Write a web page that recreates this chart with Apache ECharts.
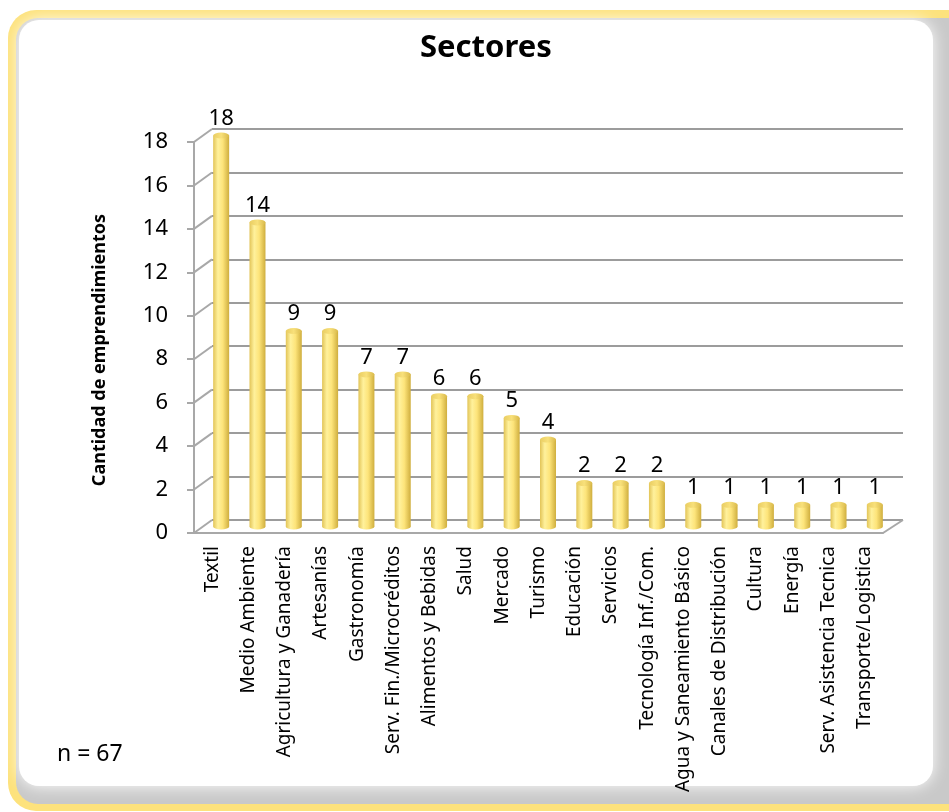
<!DOCTYPE html>
<html>
<head>
<meta charset="utf-8">
<script src="https://cdn.jsdelivr.net/npm/echarts@6/dist/echarts.min.js"></script>
<style>
  html, body { margin: 0; padding: 0; background: #fff; }
  #chart { width: 949px; height: 812px; }
</style>
</head>
<body>
<div id="chart"></div>
<script>
// datos del grafico
var categories = ['Textil', 'Medio Ambiente', 'Agricultura y Ganadería', 'Artesanías', 'Gastronomía',
    'Serv. Fin./Microcréditos', 'Alimentos y Bebidas', 'Salud', 'Mercado', 'Turismo', 'Educación',
    'Servicios', 'Tecnología Inf./Com.', 'Agua y Saneamiento Básico', 'Canales de Distribución',
    'Cultura', 'Energía', 'Serv. Asistencia Tecnica', 'Transporte/Logistica'];
var values = [18, 14, 9, 9, 7, 7, 6, 6, 5, 4, 2, 2, 2, 1, 1, 1, 1, 1, 1];
var yMin = 0, yMax = 18, yStep = 2;
var totalN = 67;

// grids: fondo (pared), frente (ejes), medio (barras)
var back = {left: 212, right: 46, top: 129, bottom: 292};
var front = {left: 194, right: 66, top: 142, bottom: 279};
var mid = {left: 203, right: 56, top: 135.5, bottom: 285.5};

var font = "'Noto Sans'";
var gridColor = '#9c9c9c';
var axisColor = '#a8a8a8';

var chart = echarts.init(document.getElementById('chart'));

var barColor = new echarts.graphic.LinearGradient(0, 0, 1, 0, [
    {offset: 0, color: '#e2c457'},
    {offset: 0.3, color: '#fff19c'},
    {offset: 0.6, color: '#fde47a'},
    {offset: 1, color: '#cfae3e'}
]);
var capColor = new echarts.graphic.LinearGradient(0, 0, 1, 0, [
    {offset: 0, color: '#e9cd62'},
    {offset: 0.5, color: '#f8e07a'},
    {offset: 1, color: '#d9b94a'}
]);

var option = {
    animation: false,
    textStyle: {fontFamily: font},
    title: [{
        text: 'Sectores',
        left: 415,
        top: 28,
        textStyle: {fontFamily: font, fontSize: 31, fontWeight: 'bold', color: '#000'}
    }, {
        text: 'n = ' + totalN,
        left: 52,
        top: 738,
        textStyle: {fontFamily: font, fontSize: 23, fontWeight: 'normal', color: '#000'}
    }],
    graphic: [{
        type: 'rect', z: -10, silent: true,
        shape: {x: 8, y: 10, width: 970, height: 801, r: 28},
        style: {fill: '#fde27c'}
    }, {
        type: 'rect', z: -9, silent: true,
        shape: {x: 16, y: 18, width: 960, height: 786, r: 22},
        style: {fill: '#c9c9c9'}
    }, {
        type: 'rect', z: -8, silent: true,
        shape: {x: 19, y: 20, width: 914, height: 766, r: 20},
        style: {fill: '#ffffff', shadowBlur: 16, shadowColor: '#ffffff'}
    }, {
        type: 'text', z: 5, silent: true,
        x: 100, y: 350, rotation: Math.PI / 2,
        style: {
            text: 'Cantidad de emprendimientos',
            font: "bold 18px 'Noto Sans'",
            fill: '#000', align: 'center', verticalAlign: 'middle'
        }
    }],
    grid: [
        {left: back.left, right: back.right, top: back.top, bottom: back.bottom},
        {left: front.left, right: front.right, top: front.top, bottom: front.bottom},
        {left: mid.left, right: mid.right, top: mid.top, bottom: mid.bottom}
    ],
    xAxis: [{
        gridIndex: 0, type: 'category', data: categories, show: false
    }, {
        gridIndex: 1, type: 'category', data: categories,
        axisLine: {lineStyle: {color: axisColor, width: 2}},
        axisTick: {alignWithLabel: false, length: 6, lineStyle: {color: axisColor, width: 2}},
        axisLabel: {
            rotate: 90, interval: 0, margin: 13,
            fontFamily: font, fontSize: 19, color: '#000'
        }
    }, {
        gridIndex: 2, type: 'category', data: categories, show: false
    }],
    yAxis: [{
        gridIndex: 0, type: 'value', min: yMin, max: yMax, interval: yStep,
        axisLine: {show: false}, axisTick: {show: false}, axisLabel: {show: false},
        splitLine: {lineStyle: {color: gridColor, width: 2}}
    }, {
        gridIndex: 1, type: 'value', min: yMin, max: yMax, interval: yStep,
        axisLine: {show: true, lineStyle: {color: axisColor, width: 2}},
        axisTick: {show: true, length: 7, lineStyle: {color: axisColor, width: 2}},
        axisLabel: {margin: 26, fontFamily: font, fontSize: 22, color: '#000'},
        splitLine: {show: false}
    }, {
        gridIndex: 2, type: 'value', min: yMin, max: yMax, interval: yStep, show: false,
        splitLine: {show: false}
    }],
    series: [{
        name: 'Sectores',
        type: 'bar',
        xAxisIndex: 2, yAxisIndex: 2,
        barWidth: 16,
        data: values,
        itemStyle: {color: barColor},
        label: {
            show: true, position: 'top', distance: 6,
            fontFamily: font, fontSize: 22, color: '#000'
        },
        z: 3
    }, {
        name: 'tapa',
        type: 'pictorialBar',
        xAxisIndex: 2, yAxisIndex: 2,
        symbol: 'circle',
        symbolSize: [16, 6],
        symbolPosition: 'end',
        symbolOffset: [0, '-50%'],
        barGap: '-100%',
        data: values,
        itemStyle: {color: capColor},
        z: 4,
        silent: true
    }, {
        name: 'base',
        type: 'pictorialBar',
        xAxisIndex: 2, yAxisIndex: 2,
        symbol: 'circle',
        symbolSize: [16, 6],
        symbolPosition: 'start',
        symbolOffset: [0, '50%'],
        barGap: '-100%',
        data: values,
        itemStyle: {color: barColor},
        z: 2,
        silent: true
    }]
};

chart.setOption(option);

// lineas diagonales entre el eje del frente y la pared del fondo
var lines = [];
for (var v = yMin; v <= yMax; v += yStep) {
    var yf = chart.convertToPixel({yAxisIndex: 1}, v);
    var yb = chart.convertToPixel({yAxisIndex: 0}, v);
    lines.push({
        type: 'line', silent: true, z: 1,
        shape: {x1: front.left, y1: yf, x2: back.left, y2: yb},
        style: {stroke: axisColor, lineWidth: 2}
    });
}
// borde derecho del piso
var y0f = chart.convertToPixel({yAxisIndex: 1}, yMin);
var y0b = chart.convertToPixel({yAxisIndex: 0}, yMin);
lines.push({
    type: 'line', silent: true, z: 1,
    shape: {x1: 949 - front.right, y1: y0f, x2: 949 - back.right, y2: y0b},
    style: {stroke: axisColor, lineWidth: 2}
});
chart.setOption({graphic: option.graphic.concat(lines)});
</script>
</body>
</html>
